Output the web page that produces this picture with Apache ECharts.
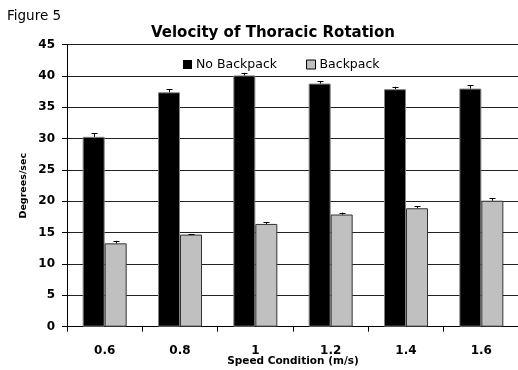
<!DOCTYPE html>
<html><head><meta charset="utf-8">
<script src="https://cdn.jsdelivr.net/npm/echarts@6/dist/echarts.min.js"></script>
<style>html,body{margin:0;padding:0;background:#fff}#c{width:518px;height:370px}</style>
</head><body><div id="c"></div>
<script>
var categories = ['0.6','0.8','1','1.2','1.4','1.6'];
var noBackpack = [30.3, 37.4, 40.1, 38.8, 37.9, 38.0];
var noBackpackErr = [0.6, 0.5, 0.4, 0.35, 0.4, 0.5];
var backpack = [13.3, 14.7, 16.4, 17.9, 18.9, 20.1];
var backpackErr = [0.4, 0.1, 0.3, 0.3, 0.3, 0.4];
var yTicks = [0,5,10,15,20,25,30,35,40,45];

var FONT = '"DejaVu Sans", "Liberation Sans", Arial, sans-serif';
var BW = 22;

function errSeries(vals, errs, side) {
  return {
    type: 'custom',
    silent: true,
    z: 5,
    data: vals.map(function(v, i){ return [i, v, v + errs[i]]; }),
    renderItem: function(params, api) {
      var lo = api.coord([api.value(0), api.value(1)]);
      var hi = api.coord([api.value(0), api.value(2)]);
      var x = Math.round(lo[0] + side * BW / 2) + 0.5;
      return {
        type: 'group',
        children: [
          {type:'line', shape:{x1:x, y1:lo[1], x2:x, y2:hi[1]}, style:{stroke:'#000', lineWidth:1}},
          {type:'line', shape:{x1:x-3, y1:Math.round(hi[1])+0.5, x2:x+3, y2:Math.round(hi[1])+0.5}, style:{stroke:'#000', lineWidth:1}}
        ]
      };
    }
  };
}

var chart = echarts.init(document.getElementById('c'), null, {renderer:'canvas'});
chart.setOption({
  animation: false,
  textStyle: {fontFamily: FONT},
  graphic: [
    {type:'text', left: 7, top: 9, style:{text:'Figure 5', font:'13.5px ' + FONT, fill:'#000'}}
  ],
  title: {
    text: 'Velocity of Thoracic Rotation',
    left: 268, top: 21, textAlign: 'center',
    textStyle: {fontFamily: FONT, fontSize: 15, fontWeight: 'bold', color: '#000'}
  },
  legend: {
    top: 58, left: 183, padding: 0,
    itemWidth: 9, itemHeight: 9, itemGap: 29,
    icon: 'rect',
    textStyle: {fontFamily: FONT, fontSize: 12.5, color: '#000', padding:[0,0,0,-1]},
    data: [
      {name:'No Backpack', itemStyle:{color:'#000', borderColor:'#000', borderWidth:0}},
      {name:'Backpack', itemStyle:{color:'#c0c0c0', borderColor:'#000', borderWidth:1}}
    ]
  },
  grid: {left: 67, right: -1, top: 44.7, bottom: 43.3, containLabel: false, outerBoundsMode: 'none'},
  xAxis: {
    type: 'category',
    data: categories,
    name: 'Speed Condition (m/s)',
    nameLocation: 'middle',
    nameGap: 29,
    nameMoveOverlap: false,
    nameTextStyle: {fontFamily: FONT, fontSize: 10.5, fontWeight: 'bold', color: '#000', verticalAlign: 'top'},
    axisLine: {lineStyle: {color: '#000', width: 1}},
    axisTick: {show: true, length: 5, lineStyle: {color: '#000'}},
    axisLabel: {fontFamily: FONT, fontSize: 12, fontWeight: 'bold', color: '#000', margin: 18}
  },
  yAxis: {
    type: 'value',
    min: 0, max: 45, interval: 5,
    name: 'Degrees/sec',
    nameLocation: 'middle',
    nameGap: 38,
    nameMoveOverlap: false,
    nameRotate: 90,
    nameTextStyle: {fontFamily: FONT, fontSize: 9.5, fontWeight: 'bold', color: '#000'},
    axisLine: {show: true, lineStyle: {color: '#000', width: 1}},
    axisTick: {show: true, length: 5, lineStyle: {color: '#000'}},
    axisLabel: {fontFamily: FONT, fontSize: 12, fontWeight: 'bold', color: '#000', margin: 12,
      formatter: function(v){ return yTicks.indexOf(v) >= 0 ? String(v) : ''; }},
    splitLine: {show: true, lineStyle: {color: '#222', width: 1}}
  },
  series: [
    {name:'No Backpack', type:'bar', data: noBackpack, barWidth: BW, barGap: '0%',
     itemStyle:{color:'#000', borderColor:'#808080', borderWidth:1}},
    {name:'Backpack', type:'bar', data: backpack, barWidth: BW,
     itemStyle:{color:'#c0c0c0', borderColor:'#333', borderWidth:1}},
    errSeries(noBackpack, noBackpackErr, -1),
    errSeries(backpack, backpackErr, 1)
  ]
});
</script>
</body></html>
